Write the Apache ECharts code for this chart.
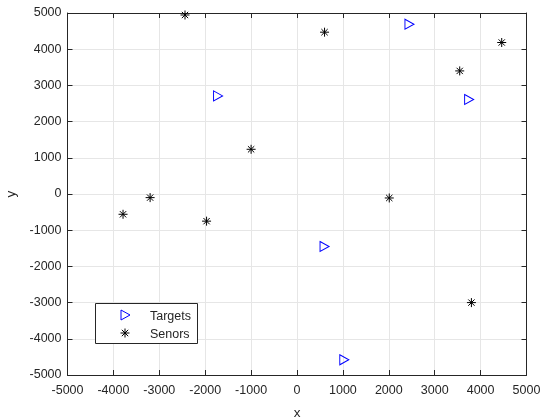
<!DOCTYPE html>
<html>
<head>
<meta charset="utf-8">
<script src="https://cdn.jsdelivr.net/npm/echarts@6/dist/echarts.min.js"></script>
<style>
html,body{margin:0;padding:0;background:#fff;}
#c{width:543px;height:420px;}
</style>
</head>
<body>
<div id="c"></div>
<script>
// Data
const targetsX = [-1720, 2450, 3750, 600, 1030];
const targetsY = [2710, 4690, 2610, -1450, -4580];
const sensorsX = [-2440, 600, 4460, 3545, -1000, -3200, 2010, -3790, -1970, 3800];
const sensorsY = [4945, 4470, 4185, 3400, 1235, -100, -110, -560, -750, -3000];
const legendNames = ['Targets', 'Senors'];

const targets = targetsX.map((x, i) => [x, targetsY[i]]);
const sensors = sensorsX.map((x, i) => [x, sensorsY[i]]);

const FONT = 'Liberation Sans';
const AX = '#262626';
const triPath = 'path://M0,0L10,5L0,10Z';
const starPath = 'path://M5,0L5,10M0,5L10,5M1.5,1.5L8.5,8.5M1.5,8.5L8.5,1.5';

function axisBase(pos, show, name) {
  return {
    type: 'value', min: -5000, max: 5000, interval: 1000, position: pos,
    name: name, nameLocation: 'middle',
    axisLine: { show: true, onZero: false, lineStyle: { color: AX, width: 1 } },
    axisTick: { show: true, inside: true, length: 5, lineStyle: { color: AX } },
    axisLabel: { show: show, color: AX, fontFamily: FONT, fontSize: 12.5,
                 formatter: v => String(v) },
    splitLine: { show: show, lineStyle: { color: '#e6e6e6', width: 1 } },
    nameTextStyle: { color: AX, fontFamily: FONT, fontSize: 13.5 }
  };
}

const xb = axisBase('bottom', true, 'x');
xb.nameGap = 31; xb.axisLabel.margin = 9;
const xt = axisBase('top', false, '');
const yl = axisBase('left', true, 'y');
yl.nameGap = 47; yl.axisLabel.margin = 6;
const yr = axisBase('right', false, '');

// legend marker geometry (legend box only, not data)
const lx = 125, ly1 = 315, ly2 = 333, r = 4.5;
const legendStar = [
  [[lx, ly2 - r], [lx, ly2 + r]],
  [[lx - r, ly2], [lx + r, ly2]],
  [[lx - 3.2, ly2 - 3.2], [lx + 3.2, ly2 + 3.2]],
  [[lx - 3.2, ly2 + 3.2], [lx + 3.2, ly2 - 3.2]]
].map(p => ({ type: 'line', z: 11,
  shape: { x1: p[0][0], y1: p[0][1], x2: p[1][0], y2: p[1][1] },
  style: { stroke: '#000', lineWidth: 1 } }));

const chart = echarts.init(document.getElementById('c'), null, { renderer: 'canvas' });
chart.setOption({
  animation: false,
  backgroundColor: '#fff',
  grid: { left: 67.5, right: 16.5, top: 13, bottom: 45, containLabel: false, outerBoundsMode: 'none' },
  xAxis: [xb, xt],
  yAxis: [yl, yr],
  series: [
    {
      name: legendNames[0], type: 'scatter', data: targets,
      symbol: triPath, symbolSize: [9, 10], symbolKeepAspect: true,
      itemStyle: { color: 'rgba(0,0,0,0)', borderColor: '#0000ff', borderWidth: 1, opacity: 1 },
      z: 3
    },
    {
      name: legendNames[1], type: 'scatter', data: sensors,
      symbol: starPath, symbolSize: 9, symbolKeepAspect: true,
      itemStyle: { color: 'rgba(0,0,0,0)', borderColor: '#000000', borderWidth: 1, opacity: 1 },
      z: 3
    }
  ],
  graphic: [
    { type: 'rect', z: 10, shape: { x: 95.5, y: 303.5, width: 102, height: 40 },
      style: { fill: '#fff', stroke: AX, lineWidth: 1 } },
    { type: 'polygon', z: 11,
      shape: { points: [[lx - 4, ly1 - 5], [lx + 5, ly1], [lx - 4, ly1 + 5]] },
      style: { fill: 'none', stroke: '#0000ff', lineWidth: 1 } },
    ...legendStar,
    { type: 'text', z: 11, x: 150, y: ly1 + 1.5, style: { text: legendNames[0], fill: AX, font: '12.5px "Liberation Sans"', verticalAlign: 'middle' } },
    { type: 'text', z: 11, x: 150, y: ly2 + 1.5, style: { text: legendNames[1], fill: AX, font: '12.5px "Liberation Sans"', verticalAlign: 'middle' } }
  ]
});
</script>
</body>
</html>
